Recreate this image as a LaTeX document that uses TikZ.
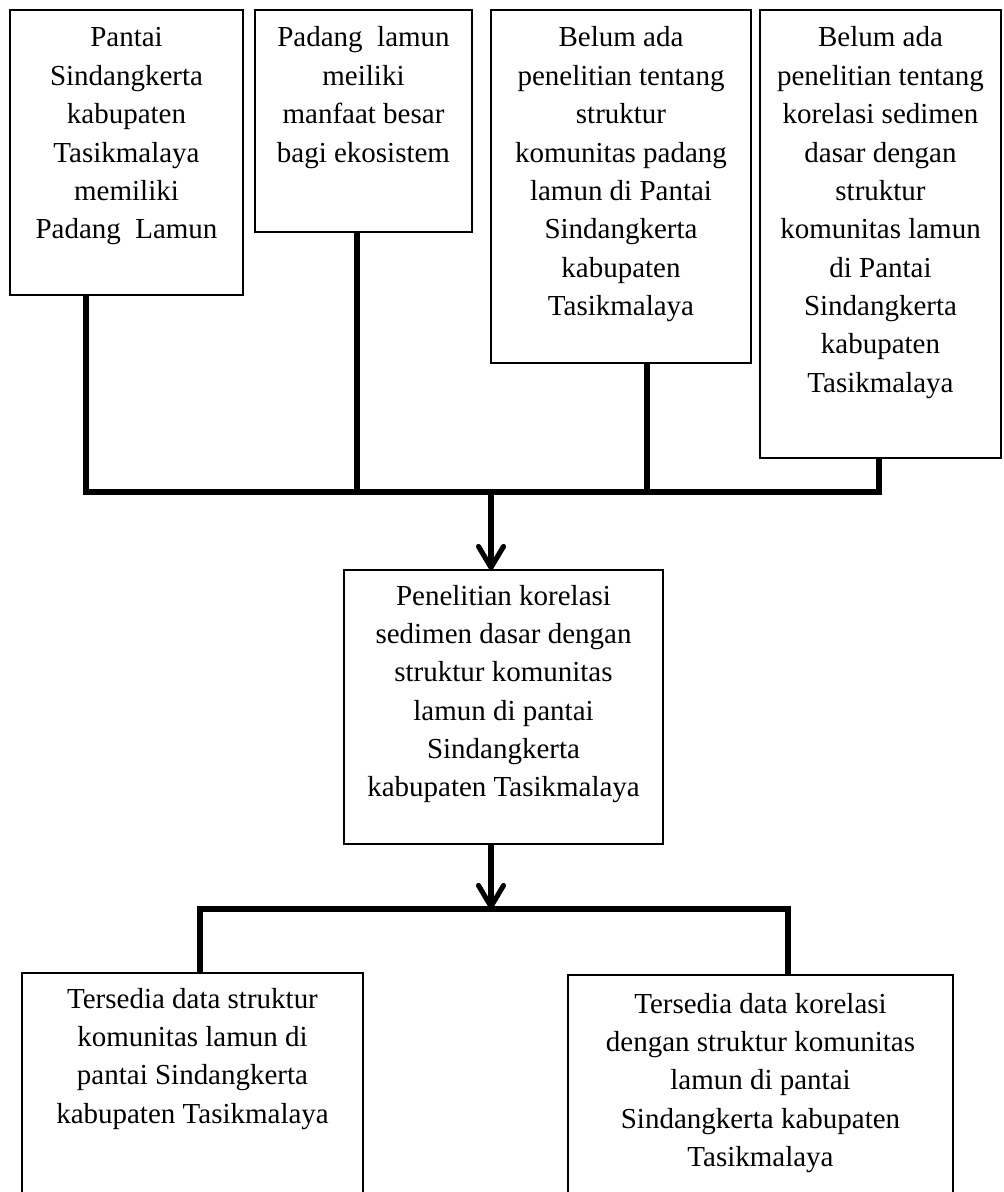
\documentclass[tikz,border=0pt]{standalone}
\usepackage{fontspec}
\setmainfont{Liberation Serif}
\usetikzlibrary{arrows.meta}
\newlength\pxu
\setlength\pxu{0.02cm}
\newcommand\boxtxt[4]{\begin{minipage}[t][#2\pxu][t]{#1\pxu}\centering\fontsize{16.5pt}{21.83pt}\selectfont\rule{0pt}{#3\pxu}#4\end{minipage}}
\tikzset{
  box/.style={draw, line width=1.1pt, inner sep=0pt, outer sep=0pt, anchor=north west},
  bus/.style={line width=2.9pt, line join=miter},
  tipdown/.style={-{Straight Barb[length=0.42cm,width=0.5cm,round]}}
}
\begin{document}
\begin{tikzpicture}[x=0.02cm,y=-0.02cm]
\useasboundingbox (0,0) rectangle (1003,1192);
\clip (0,0) rectangle (1003,1192);
\fill[white] (0,0) rectangle (1003,1192);

\node[box] (b1) at (10,10) {\boxtxt{233}{285}{37}{Pantai\\Sindangkerta\\kabupaten\\Tasikmalaya\\memiliki\\Padang~~Lamun}};
\node[box] (b2) at (255,10) {\boxtxt{217}{222}{37}{Padang~~lamun\\meiliki\\manfaat besar\\bagi ekosistem}};
\node[box] (b3) at (491,10) {\boxtxt{260}{353}{37}{Belum ada\\penelitian tentang\\struktur\\komunitas padang\\lamun di Pantai\\Sindangkerta\\kabupaten\\Tasikmalaya}};
\node[box] (b4) at (760,10) {\boxtxt{241}{448}{37}{Belum ada\\penelitian tentang\\korelasi sedimen\\dasar dengan\\struktur\\komunitas lamun\\di Pantai\\Sindangkerta\\kabupaten\\Tasikmalaya}};
\node[box] (mid) at (344,570) {\boxtxt{319}{274}{35}{Penelitian korelasi\\sedimen dasar dengan\\struktur komunitas\\lamun di pantai\\Sindangkerta\\kabupaten Tasikmalaya}};
\node[box] (b5) at (22,973) {\boxtxt{341}{260}{35}{Tersedia data struktur\\komunitas lamun di\\pantai Sindangkerta\\kabupaten Tasikmalaya}};
\node[box] (b6) at (568,975) {\boxtxt{385}{260}{38}{Tersedia data korelasi\\dengan struktur komunitas\\lamun di pantai\\Sindangkerta kabupaten\\Tasikmalaya}};

\coordinate (jl) at (86,492);
\coordinate (j2) at (357,492);
\coordinate (jm) at (491,492);
\coordinate (j3) at (647,492);
\coordinate (jr) at (879,492);
\coordinate (kl) at (200,909);
\coordinate (km) at (491,909);
\coordinate (kr) at (788,909);

\draw[bus] (b1.south -| jl) -- (jl) -- (jr) -- (b4.south -| jr);
\draw[bus] (b2.south -| j2) -- (j2);
\draw[bus] (b3.south -| j3) -- (j3);
\draw[bus,tipdown] (jm) -- (mid.north -| jm);

\draw[bus,tipdown] (mid.south -| km) -- (km);
\draw[bus] (b5.north -| kl) -- (kl) -- (kr) -- (b6.north -| kr);
\end{tikzpicture}
\end{document}
